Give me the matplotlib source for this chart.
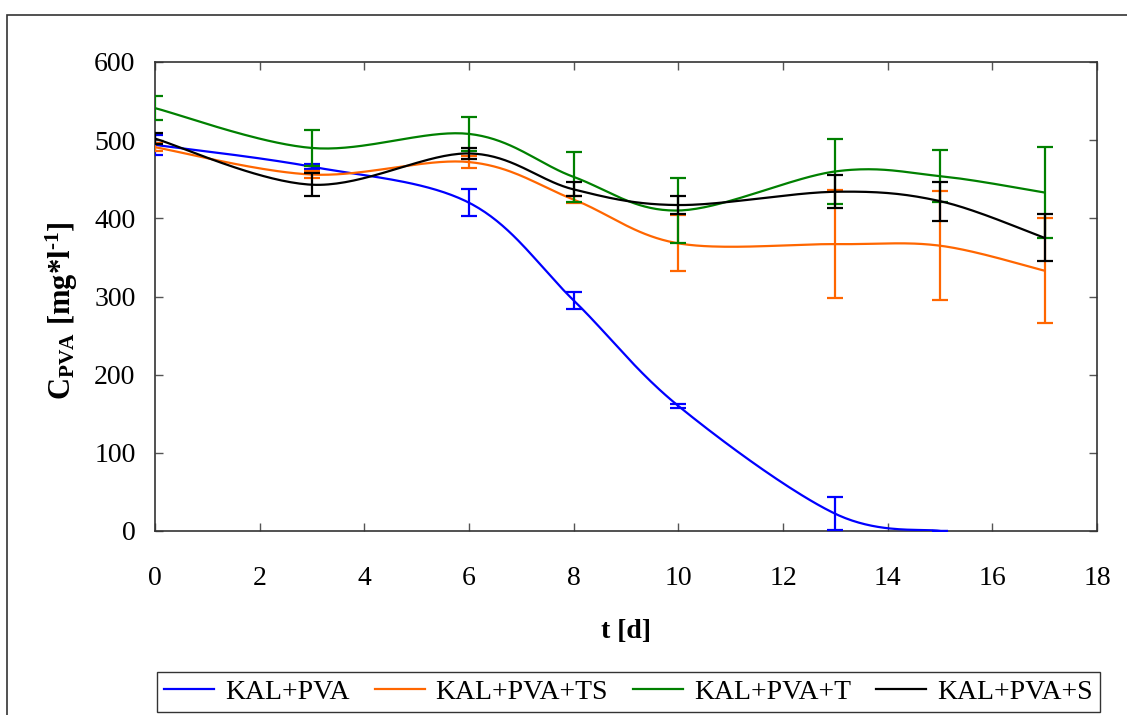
import numpy as np
import matplotlib
matplotlib.use("Agg")
import matplotlib.pyplot as plt
from matplotlib.patches import Rectangle

plt.rcParams['font.family'] = ['Liberation Serif', 'DejaVu Serif']
plt.rcParams['mathtext.fontset'] = 'custom'
plt.rcParams['mathtext.rm'] = 'Liberation Serif:bold'
plt.rcParams['mathtext.bf'] = 'Liberation Serif:bold'
plt.rcParams['mathtext.it'] = 'Liberation Serif:bold'

# ---- data ----
t_blue = [0, 3, 6, 8, 10, 13, 15]
kal_pva = [494, 466, 420, 295, 160, 22, 0]
kal_pva_err = [13, 3, 17, 11, 3, 21, 0]

t_all = [0, 3, 6, 8, 10, 13, 15, 17]
kal_pva_ts = [491, 456, 472, 424, 368, 367, 365, 333]
kal_pva_ts_err = [5, 4, 8, 4, 36, 69, 70, 67]

kal_pva_t = [541, 490, 508, 453, 410, 460, 454, 433]
kal_pva_t_err = [15, 23, 22, 32, 42, 42, 33, 58]

kal_pva_s = [502, 443, 483, 437, 417, 434, 422, 375]
kal_pva_s_err = [7, 15, 7, 9, 12, 21, 25, 30]

labels = ['KAL+PVA', 'KAL+PVA+TS', 'KAL+PVA+T', 'KAL+PVA+S']
colors = ['#0000FF', '#FF6600', '#008000', '#000000']

W, H = 1127, 715
fig = plt.figure(figsize=(W / 100, H / 100), dpi=100)
ax = fig.add_axes([155 / W, 1 - 531 / H, (1097 - 155) / W, (531 - 62) / H])

XMAX, YMAX = 18, 600
sx = (1097 - 155) / XMAX
sy = (531 - 62) / YMAX


def smooth(x, y, n=40):
    # Catmull-Rom style Bezier smoothing (as in spreadsheet "smoothed lines"), in pixel space
    P = np.column_stack([np.asarray(x, float) * sx, np.asarray(y, float) * sy])
    pts = []
    m = len(P)
    for i in range(m - 1):
        p0 = P[i - 1] if i > 0 else P[i]
        p1, p2 = P[i], P[i + 1]
        p3 = P[i + 2] if i + 2 < m else P[i + 1]
        c1 = p1 + (p2 - p0) / 6
        c2 = p2 - (p3 - p1) / 6
        tt = np.linspace(0, 1, n)[:, None]
        seg = ((1 - tt) ** 3) * p1 + 3 * ((1 - tt) ** 2) * tt * c1 + 3 * (1 - tt) * tt ** 2 * c2 + tt ** 3 * p2
        pts.append(seg if i == 0 else seg[1:])
    pts = np.vstack(pts)
    return pts[:, 0] / sx, pts[:, 1] / sy


series = [
    (t_blue, kal_pva, kal_pva_err),
    (t_all, kal_pva_ts, kal_pva_ts_err),
    (t_all, kal_pva_t, kal_pva_t_err),
    (t_all, kal_pva_s, kal_pva_s_err),
]

handles = []
for (x, y, e), c, lab in zip(series, colors, labels):
    xs, ys = smooth(x, y)
    h, = ax.plot(xs, ys, color=c, lw=1.6, label=lab, zorder=3)
    handles.append(h)
    ax.errorbar(x, y, yerr=e, fmt='none', ecolor=c, elinewidth=1.6,
                capsize=5.5, capthick=1.6, zorder=3)

ax.set_xlim(0, XMAX)
ax.set_ylim(0, YMAX)
ax.set_xticks(range(0, 19, 2))
ax.set_yticks(range(0, 601, 100))
ax.tick_params(direction='in', length=6, width=1, colors='#555555',
               labelcolor='black', labelsize=20, top=True, right=True)
ax.tick_params(axis='x', pad=25)
ax.tick_params(axis='y', pad=14)
for s in ax.spines.values():
    s.set_color('#333333')
    s.set_linewidth(1.2)

ax.set_xlabel('t [d]', fontsize=20, fontweight='bold')
ax.xaxis.set_label_coords(0.5, (531 - 619) / 469, transform=ax.transAxes)
ax.set_ylabel(r'$\mathrm{C_{PVA}\ [mg{*}l^{\text{-1}}]}$', fontsize=22)
ax.yaxis.set_label_coords((80 - 155) / 942, (531 - 311) / 469, transform=ax.transAxes)

leg = fig.legend(handles=handles, labels=labels, loc='center',
                 bbox_to_anchor=((157 + 1100) / 2 / W, 1 - 692 / H),
                 ncol=4, fontsize=20, frameon=True, fancybox=False,
                 handlelength=1.8, handletextpad=0.4, columnspacing=0.9,
                 borderpad=0.25)
leg.get_frame().set_edgecolor('black')
leg.get_frame().set_linewidth(1.0)

fig.patches.append(Rectangle((7 / W, -0.1), 1.2, (H - 15) / H + 0.1,
                             transform=fig.transFigure, fill=False,
                             edgecolor='#333333', lw=1.2))

fig.savefig('out.png', dpi=100)
